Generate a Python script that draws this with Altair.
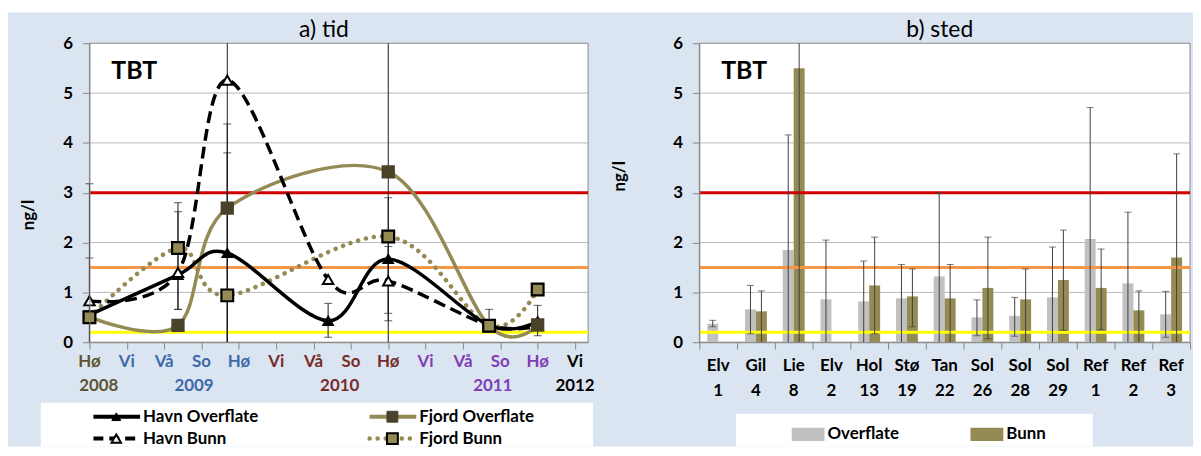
import altair as alt
import pandas as pd

W, H = 1193, 440
FONT = "Lato"

# ---------------- panel a) tid ----------------
season_labels = ["Hø", "Vi", "Vå", "So", "Hø", "Vi", "Vå", "So", "Hø", "Vi", "Vå", "So", "Hø", "Vi"]
season_year = ["2008", "2009", "2009", "2009", "2009", "2010", "2010", "2010", "2010",
               "2011", "2011", "2011", "2011", "2012"]
year_labels = ["2008", "2009", "2010", "2011", "2012"]
year_pos = [0.25, 2.8, 6.7, 10.8, 13.0]
year_colors = ["#5c5433", "#3d6aa8", "#772c2a", "#7f3fb5", "#000000"]

t_havn = [0, 2.37, 3.69, 6.39, 8.0, 10.7, 12.0]
havn_overflate = [0.55, 1.35, 1.79, 0.43, 1.67, 0.34, 0.42]
havn_bunn = [0.83, 1.40, 5.26, 1.26, 1.23, 0.34, 0.33]
t_fjord = [0, 2.37, 3.69, 8.0, 10.7, 12.0]
fjord_overflate = [0.51, 0.34, 2.69, 3.42, 0.33, 0.35]
fjord_bunn = [0.50, 1.89, 0.94, 2.12, 0.33, 1.06]

err_t = [0, 0, 2.37, 2.37, 3.69, 3.69, 3.69, 6.39, 8.0, 8.0, 8.0, 10.7, 12.0]
err_lo = [0, 0, 0.66, 0.66, 0, 0, 0, 0.10, 0, 0.43, 0.58, 0.34, 0.13]
err_hi = [3.18, 1.69, 2.80, 2.62, 6.0, 4.38, 3.80, 0.78, 6.0, 2.90, 1.92, 0.66, 0.74]

thresholds = [3.0, 1.5, 0.2]
threshold_colors = ["#d00000", "#f79646", "#ffff00"]
grid_vals = [1, 2, 3, 4, 5]

# ---------------- panel b) sted ----------------
site_name = ["Elv", "Gil", "Lie", "Elv", "Hol", "Stø", "Tan", "Sol", "Sol", "Sol", "Ref", "Ref", "Ref"]
site_no = ["1", "4", "8", "2", "13", "19", "22", "26", "28", "29", "1", "2", "3"]
overflate = [0.37, 0.66, 1.85, 0.86, 0.82, 0.88, 1.32, 0.50, 0.53, 0.90, 2.07, 1.18, 0.56]
bunn = [None, 0.62, 5.50, None, 1.14, 0.92, 0.88, 1.09, 0.86, 1.25, 1.09, 0.64, 1.70]
ov_lo = [0.31, 0.17, 0, 0, 0, 0, 0, 0.13, 0.12, 0, 0, 0, 0.10]
ov_hi = [0.44, 1.14, 4.16, 2.05, 1.63, 1.56, 3.00, 0.85, 0.90, 1.91, 4.71, 2.61, 1.02]
bu_lo = [None, 0, 0, None, 0.17, 0.31, 0, 0.07, 0, 0.24, 0.25, 0, 0]
bu_hi = [None, 1.03, 6.0, None, 2.11, 1.47, 1.56, 2.11, 1.47, 2.25, 1.87, 1.03, 3.78]

# ---------------- tables ----------------
dummy = pd.DataFrame({"k": [0]})
df_seasons = pd.DataFrame({"t": list(range(len(season_labels))), "lab": season_labels, "yr": season_year})
df_years = pd.DataFrame({"t": year_pos, "lab": year_labels})
df_ho = pd.DataFrame({"t": t_havn, "v": havn_overflate})
df_hb = pd.DataFrame({"t": t_havn, "v": havn_bunn})
df_fo = pd.DataFrame({"t": t_fjord, "v": fjord_overflate})
df_fb = pd.DataFrame({"t": t_fjord, "v": fjord_bunn})
df_err = pd.DataFrame({"t": err_t, "lo": err_lo, "hi": err_hi})
caps_l = [(t, lo) for t, lo in zip(err_t, err_lo) if 0 < lo < 6] + \
         [(t, hi) for t, hi in zip(err_t, err_hi) if 0 < hi < 6]
df_caps_l = pd.DataFrame(caps_l, columns=["t", "v"])
df_thr = pd.DataFrame({"v": thresholds, "c": [str(v) for v in thresholds]})
df_grid = pd.DataFrame({"v": grid_vals})

n = len(site_name)
rows = []
for i in range(n):
    rows.append({"i": i, "serie": "Overflate", "v": overflate[i], "lo": ov_lo[i], "hi": ov_hi[i]})
    if bunn[i] is not None:
        rows.append({"i": i, "serie": "Bunn", "v": bunn[i], "lo": bu_lo[i], "hi": bu_hi[i]})
df_bars = pd.DataFrame(rows)
caps_r = [(r["i"], r["serie"], r["lo"]) for r in rows if 0 < r["lo"] < 6] + \
         [(r["i"], r["serie"], r["hi"]) for r in rows if 0 < r["hi"] < 6]
df_caps_r = pd.DataFrame(caps_r, columns=["i", "serie", "v"])
df_sites = pd.DataFrame({"c": [i + 0.5 for i in range(n)], "name": site_name, "no": site_no})

# ---------------- scales ----------------
XL = alt.Scale(domain=[0, 13.35], range=[82, 584], nice=False, zero=False)
YS = alt.Scale(domain=[0, 6], range=[335, 34], nice=False, zero=False)
XR = alt.Scale(domain=[0, 13], range=[696, 1190], nice=False, zero=False)
thr_color = alt.Scale(domain=[str(v) for v in thresholds], range=threshold_colors)

LBL = 17
AX = dict(labelFont=FONT, labelFontSize=LBL, labelFontWeight="bold", labelColor="#000000",
          tickColor="#868686", domainColor="#868686", grid=False, title=None, zindex=1)

layers = []

# backgrounds
layers.append(alt.Chart(dummy).mark_rect(color="#dbe5f1").encode(
    x=alt.value(0), x2=alt.value(W), y=alt.value(3), y2=alt.value(H)))
layers.append(alt.Chart(dummy).mark_rect(color="white").encode(
    x=alt.value(33), x2=alt.value(589), y=alt.value(396), y2=alt.value(H)))
layers.append(alt.Chart(dummy).mark_rect(color="white").encode(
    x=alt.value(733), x2=alt.value(1092), y=alt.value(407), y2=alt.value(H)))
for x1, x2 in [(82, 584), (696, 1190)]:
    layers.append(alt.Chart(dummy).mark_rect(fill="white", stroke="#868686", strokeWidth=1).encode(
        x=alt.value(x1), x2=alt.value(x2), y=alt.value(34), y2=alt.value(335)))

# gridlines
for x1, x2 in [(82, 584), (696, 1190)]:
    layers.append(alt.Chart(df_grid).mark_rule(color="#b8b8b8", strokeWidth=1).encode(
        y=alt.Y("v:Q", scale=YS, axis=None), x=alt.value(x1), x2=alt.value(x2)))

# ----- panel a -----
layers.append(alt.Chart(df_thr).mark_rule(strokeWidth=3).encode(
    y=alt.Y("v:Q", scale=YS, axis=alt.Axis(orient="left", offset=-82, values=[0, 1, 2, 3, 4, 5, 6],
                                            tickSize=7, labelPadding=10, **AX)),
    x=alt.value(82), x2=alt.value(584),
    color=alt.Color("c:N", scale=thr_color, legend=None)))

layers.append(alt.Chart(df_err).mark_rule(color="#1a1a1a", strokeWidth=1).encode(
    x=alt.X("t:Q", scale=XL, axis=None), y=alt.Y("lo:Q", scale=YS, axis=None), y2="hi:Q"))
layers.append(alt.Chart(df_caps_l).mark_tick(orient="horizontal", color="#1a1a1a", size=8, thickness=1).encode(
    x=alt.X("t:Q", scale=XL, axis=None), y=alt.Y("v:Q", scale=YS, axis=None)))

KH = "#948a54"
layers.append(alt.Chart(df_fo).mark_line(interpolate="cardinal", color=KH, strokeWidth=3.5).encode(
    x=alt.X("t:Q", scale=XL, axis=None), y=alt.Y("v:Q", scale=YS, axis=None)))
layers.append(alt.Chart(df_fb).mark_line(interpolate="cardinal", color=KH, strokeWidth=4.5,
                                         strokeDash=[0.1, 8], strokeCap="round").encode(
    x=alt.X("t:Q", scale=XL, axis=None), y=alt.Y("v:Q", scale=YS, axis=None)))
layers.append(alt.Chart(df_ho).mark_line(interpolate="cardinal", color="black", strokeWidth=3.5).encode(
    x=alt.X("t:Q", scale=XL, axis=None), y=alt.Y("v:Q", scale=YS, axis=None)))
layers.append(alt.Chart(df_hb).mark_line(interpolate="cardinal", color="black", strokeWidth=3.5,
                                         strokeDash=[12, 6]).encode(
    x=alt.X("t:Q", scale=XL, axis=None), y=alt.Y("v:Q", scale=YS, axis=None)))

layers.append(alt.Chart(df_ho).mark_point(shape="triangle-up", filled=True, fill="black", stroke="black",
                                          size=90, opacity=1).encode(
    x=alt.X("t:Q", scale=XL, axis=None), y=alt.Y("v:Q", scale=YS, axis=None)))
layers.append(alt.Chart(df_hb).mark_point(shape="triangle-up", filled=True, fill="white", stroke="black",
                                          strokeWidth=2, size=110, opacity=1).encode(
    x=alt.X("t:Q", scale=XL, axis=None), y=alt.Y("v:Q", scale=YS, axis=None)))
layers.append(alt.Chart(df_fo).mark_point(shape="square", filled=True, fill="#4a4229", stroke="#4a4229",
                                          size=130, opacity=1).encode(
    x=alt.X("t:Q", scale=XL, axis=None), y=alt.Y("v:Q", scale=YS, axis=None)))
layers.append(alt.Chart(df_fb).mark_point(shape="square", filled=True, fill=KH, stroke="black",
                                          strokeWidth=2.2, size=140, opacity=1).encode(
    x=alt.X("t:Q", scale=XL, axis=None), y=alt.Y("v:Q", scale=YS, axis=None)))

# x axis a (ticks) + season labels
layers.append(alt.Chart(df_seasons).mark_text(font=FONT, fontSize=LBL, fontWeight="bold", baseline="middle").encode(
    x=alt.X("t:Q", scale=XL, axis=alt.Axis(orient="bottom", offset=335 - H, values=list(range(14)),
                                            labels=False, tickSize=7, **AX)),
    y=alt.value(355), text="lab:N",
    color=alt.Color("yr:N", scale=alt.Scale(domain=year_labels, range=year_colors), legend=None)))
layers.append(alt.Chart(df_years).mark_text(font=FONT, fontSize=LBL, fontWeight="bold", baseline="middle").encode(
    x=alt.X("t:Q", scale=XL, axis=None), y=alt.value(379), text="lab:N",
    color=alt.Color("lab:N", scale=alt.Scale(domain=year_labels, range=year_colors), legend=None)))

# ----- panel b -----
layers.append(alt.Chart(df_bars).transform_calculate(
    x0="datum.i + (datum.serie == 'Overflate' ? 0.21 : 0.5)", x1="datum.x0 + 0.29"
).mark_bar(opacity=1).encode(
    x=alt.X("x0:Q", scale=XR, axis=None), x2="x1:Q",
    y=alt.Y("v:Q", scale=YS, axis=None), y2=alt.datum(0),
    color=alt.Color("serie:N", scale=alt.Scale(domain=["Overflate", "Bunn"], range=["#c0c0c0", KH]),
                    legend=alt.Legend(orient="none", legendX=789, legendY=411, direction="horizontal",
                                      title=None, symbolType="M-1,-0.4H1V0.4H-1Z", symbolSize=1089,
                                      symbolStrokeWidth=0, labelFont=FONT, labelFontSize=LBL,
                                      labelFontWeight="bold", labelOffset=3, columnPadding=71,
                                      padding=0, labelColor="black", zindex=1))))

layers.append(alt.Chart(df_thr).mark_rule(strokeWidth=3).encode(
    y=alt.Y("v:Q", scale=YS, axis=alt.Axis(orient="left", offset=-696, values=[0, 1, 2, 3, 4, 5, 6],
                                            tickSize=7, labelPadding=10, **AX)),
    x=alt.value(696), x2=alt.value(1190),
    color=alt.Color("c:N", scale=thr_color, legend=None)))

layers.append(alt.Chart(df_bars).transform_calculate(
    xc="datum.i + (datum.serie == 'Overflate' ? 0.355 : 0.645)"
).mark_rule(color="#404040", strokeWidth=1).encode(
    x=alt.X("xc:Q", scale=XR, axis=None), y=alt.Y("lo:Q", scale=YS, axis=None), y2="hi:Q"))
layers.append(alt.Chart(df_caps_r).transform_calculate(
    xc="datum.i + (datum.serie == 'Overflate' ? 0.355 : 0.645)"
).mark_tick(orient="horizontal", color="#404040", size=7, thickness=1).encode(
    x=alt.X("xc:Q", scale=XR, axis=None), y=alt.Y("v:Q", scale=YS, axis=None)))

layers.append(alt.Chart(df_sites).mark_text(font=FONT, fontSize=LBL, fontWeight="bold", baseline="middle").encode(
    x=alt.X("c:Q", scale=XR, axis=alt.Axis(orient="bottom", offset=335 - H, values=list(range(14)),
                                            labels=False, tickSize=7, **AX)),
    y=alt.value(359), text="name:N"))
layers.append(alt.Chart(df_sites).mark_text(font=FONT, fontSize=LBL, fontWeight="bold", baseline="middle").encode(
    x=alt.X("c:Q", scale=XR, axis=None), y=alt.value(384), text="no:N"))

# ----- texts -----
def txt(s, x, y, size, weight="bold", angle=0, align="center"):
    return alt.Chart(dummy).mark_text(text=s, font=FONT, fontSize=size, fontWeight=weight, angle=angle,
                                      align=align, baseline="middle", color="black").encode(
        x=alt.value(x), y=alt.value(y))

layers.append(txt("a) tid", 318, 21, 23, "normal"))
layers.append(txt("b) sted", 938, 21, 23, "normal"))
layers.append(txt("TBT", 104, 62, 25, align="left"))
layers.append(txt("TBT", 718, 62, 25, align="left"))
layers.append(txt("ng/l", 21, 207, 17, angle=270))
layers.append(txt("ng/l", 616, 168, 17, angle=270))

# ----- legend a (manual) -----
def seg(x1, x2, y, color, width, dash=None, cap="butt"):
    kw = dict(color=color, strokeWidth=width, strokeCap=cap)
    if dash:
        kw["strokeDash"] = dash
    return alt.Chart(dummy).mark_rule(**kw).encode(x=alt.value(x1), x2=alt.value(x2), y=alt.value(y))

def mk(x, y, shape, fill, stroke, sw, size):
    return alt.Chart(dummy).mark_point(shape=shape, filled=True, fill=fill, stroke=stroke, strokeWidth=sw,
                                       size=size, opacity=1).encode(x=alt.value(x), y=alt.value(y))

layers.append(seg(86, 133, 410, "black", 4))
layers.append(mk(109, 410, "triangle-up", "black", "black", 1, 80))
layers.append(seg(86, 133, 432, "black", 4, [10, 6]))
layers.append(mk(109, 432, "triangle-up", "white", "black", 2, 90))
layers.append(seg(364, 411, 410, KH, 4))
layers.append(mk(387, 410, "square", "#4a4229", "#4a4229", 1, 120))
layers.append(seg(364, 411, 432, KH, 4.5, [0.1, 8], "round"))
layers.append(mk(387, 432, "square", KH, "black", 2, 120))
layers.append(txt("Havn Overflate", 136, 410, LBL, align="left"))
layers.append(txt("Havn Bunn", 136, 432, LBL, align="left"))
layers.append(txt("Fjord Overflate", 414, 410, LBL, align="left"))
layers.append(txt("Fjord Bunn", 414, 432, LBL, align="left"))

chart = alt.layer(*layers).resolve_scale(
    x="independent", y="independent", color="independent"
).resolve_axis(x="independent", y="independent").properties(
    width=W, height=H, autosize=alt.AutoSizeParams(type="none"), padding=0,
    background="white"
).configure_view(stroke=None)

chart.save("out.html", embed_options={"renderer": "svg", "actions": False})
